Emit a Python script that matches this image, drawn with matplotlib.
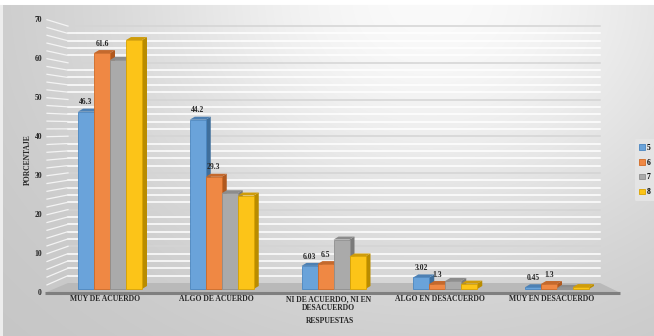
import numpy as np
import matplotlib
matplotlib.use('Agg')
import matplotlib.pyplot as plt
from matplotlib.patches import Polygon, Patch

plt.rcParams['font.family'] = ['Liberation Serif', 'DejaVu Serif']
plt.rcParams['font.weight'] = 'bold'

categorias = ['MUY DE ACUERDO', 'ALGO DE ACUERDO', 'NI DE ACUERDO, NI EN\nDESACUERDO',
              'ALGO EN DESACUERDO', 'MUY EN DESACUERDO']
series = ['5', '6', '7', '8']
s5 = [46.3, 44.2, 6.03, 3.02, 0.45]
s6 = [61.6, 29.3, 6.5, 1.3, 1.3]
s7 = [59.8, 25.0, 12.9, 2.1, 0.3]
s8 = [65.0, 24.4, 8.5, 1.4, 0.5]
etiquetas = {'5': s5, '6': s6}   # solo estas series llevan rotulo
yticks = [0, 10, 20, 30, 40, 50, 60, 70]

valores = [s5, s6, s7, s8]
frente = ['#6aa3da', '#ef8844', '#aaaaaa', '#fcc418']
lado = ['#3f6f9c', '#b0591f', '#7a7a7a', '#b98c00']
techo = ['#4d80b3', '#c4692d', '#8c8c8c', '#cf9c0a']
borde = ['#4a86c0', '#d06a25', '#8f8f8f', '#d9a300']

W, H = 654, 336
# conversion pixel -> datos (x: categoria, y: porcentaje)
def px2x(px):
    return (px - 110) / 111.75

def py2v(py):
    return (289 - py) / 3.83

def pared_frente(v):
    return py2v(292.7 - 3.9 * v)

def pared_fondo(v):
    return py2v(283 - 3.67 * v)

fig = plt.figure(figsize=(W / 100, H / 100), dpi=100)
ax = fig.add_axes([0, 0, 1, 1])
ax.set_xlim(px2x(0), px2x(W))
ax.set_ylim(py2v(H), py2v(0))
ax.axis('off')

# fondo degradado gris
yy, xx = np.mgrid[0:H, 0:W]
g = 0.77 + 0.21 * np.exp(-((xx - 430) / 330.0) ** 2 - (yy / 270.0) ** 2)
g[:5, :] = 1.0
g[:, :3] = np.maximum(g[:, :3], 0.93)
img = np.dstack([g, g, g])
ax.imshow(img, extent=(px2x(0), px2x(W), py2v(H), py2v(0)), aspect='auto', zorder=0)

# lineas de la pared
for v in np.arange(2, 71, 2):
    mayor = v % 10 == 0
    c = '#d4d4d4' if mayor else '#ffffff'
    ax.plot([px2x(68), px2x(600)], [pared_fondo(v)] * 2, color=c, lw=1.1, zorder=1)
    ax.plot([px2x(47), px2x(68)], [pared_frente(v), pared_fondo(v)], color='#f4f4f4', lw=0.9, zorder=1)

# piso
piso = Polygon([(px2x(45), pared_frente(0)), (px2x(620), pared_frente(0)),
                (px2x(600), pared_fondo(0)), (px2x(68), pared_fondo(0))],
               closed=True, facecolor='#b9b9b9', edgecolor='none', zorder=2)
ax.add_patch(piso)
ax.plot([px2x(45), px2x(620)], [pared_frente(0)] * 2, color='#7f7f7f', lw=2.2,
        solid_capstyle='butt', zorder=2)

# barras 3D
x = np.arange(len(categorias))
ancho = 16 / 111.75
dx = 5 / 111.75
dy = 3 / 3.83
for k in range(len(series)):
    for i, v in enumerate(valores[k]):
        x0 = x[i] + (k - 2) * ancho
        x1 = x0 + ancho
        z = 3 + k
        ax.add_patch(Polygon([(x1, 0), (x1 + dx, dy), (x1 + dx, v + dy), (x1, v)],
                             facecolor=lado[k], edgecolor='none', zorder=z))
        ax.add_patch(Polygon([(x0, v), (x1, v), (x1 + dx, v + dy), (x0 + dx, v + dy)],
                             facecolor=techo[k], edgecolor='none', zorder=z))
        ax.add_patch(Polygon([(x0, 0), (x1, 0), (x1, v), (x0, v)],
                             facecolor=frente[k], edgecolor=borde[k], lw=0.6, zorder=z + 0.5))

# rotulos de datos
for k, s in enumerate(series):
    if s not in etiquetas:
        continue
    for i, v in enumerate(etiquetas[s]):
        xc = x[i] + (k - 1.5) * ancho
        ax.text(xc, v + dy + 0.6, f'{v:g}', ha='center', va='bottom', fontsize=5.5,
                color='#262626', zorder=20)

# eje y
for v in yticks:
    ax.text(px2x(42), pared_frente(v), str(v), ha='right', va='center', fontsize=5.5,
            color='#262626', zorder=20)
ax.text(px2x(28), py2v(160), 'PORCENTAJE', rotation=90, ha='center', va='center',
        fontsize=5.5, color='#262626')

# eje x
for i, c in enumerate(categorias):
    ax.text(x[i] - 5 / 111.75, py2v(295), c, ha='center', va='top', fontsize=5.5,
            color='#262626', linespacing=1.2)
ax.text(px2x(330), py2v(321), 'RESPUESTAS', ha='center', va='center', fontsize=5.5,
        color='#262626')

# leyenda
handles = [Patch(facecolor=frente[k], edgecolor=borde[k], lw=0.6, label=s)
           for k, s in enumerate(series)]
leg = fig.legend(handles=handles, loc='center', bbox_to_anchor=(645 / W, 1 - 170 / H),
                 fontsize=5.5, frameon=True, handlelength=0.7, handleheight=0.7,
                 handletextpad=0.3, labelspacing=0.9, borderpad=0.6, borderaxespad=0)
leg.get_frame().set_facecolor('#e4e4e4')
leg.get_frame().set_edgecolor('none')
leg.get_frame().set_alpha(1)

fig.savefig('out.png', dpi=100)
